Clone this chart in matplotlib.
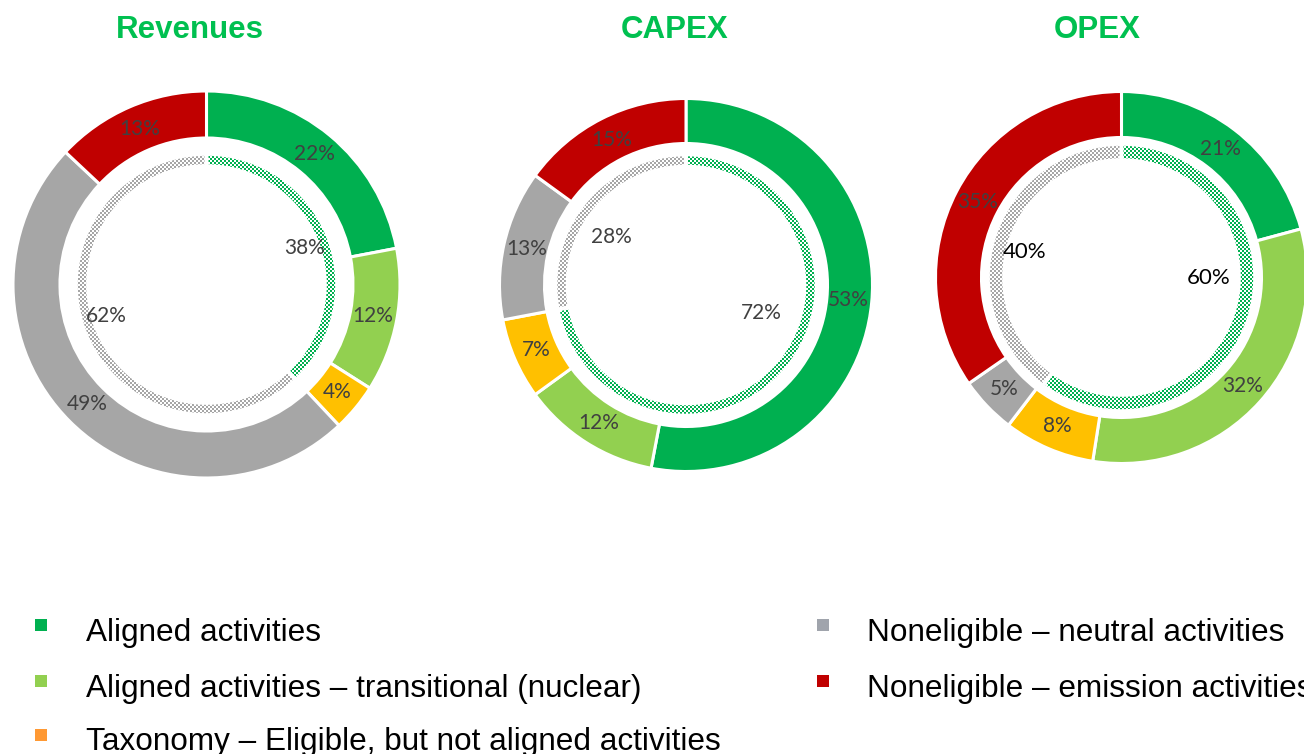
import numpy as np
import matplotlib
matplotlib.use("Agg")
import matplotlib.pyplot as plt

# ---- data -------------------------------------------------------------
titles = ["Revenues", "CAPEX", "OPEX"]
categories = [
    "Aligned activities",
    "Aligned activities \u2013 transitional (nuclear)",
    "Taxonomy \u2013 Eligible, but not aligned activities",
    "Noneligible \u2013 neutral activities",
    "Noneligible \u2013 emission activities",
]
revenues = [22, 12, 4, 49, 13]
capex = [53, 12, 7, 13, 15]
opex = [21, 32, 8, 5, 35]
# inner ring: eligible vs. non-eligible share
revenues_inner = [38, 62]
capex_inner = [72, 28]
opex_inner = [60, 40]

outer_values = [revenues, capex, opex]
inner_values = [revenues_inner, capex_inner, opex_inner]

# ---- style ------------------------------------------------------------
ring_colors = ["#00B050", "#92D050", "#FFC000", "#A6A6A6", "#C00000"]
legend_colors = ["#00B050", "#92D050", "#FF9933", "#A0A4AC", "#C00000"]
inner_colors = ["#00B050", "#A6A6A6"]
title_color = "#00C050"
label_color = "#404040"

W, H = 1304, 754
fig = plt.figure(figsize=(W / 100, H / 100), dpi=100)
ax = fig.add_axes([0, 0, 1, 1])

# layout (pixel units, y measured from the top)
centers = [(206.5, 284.5), (686.0, 285.0), (1121.5, 277.5)]
outer_r = [193.5, 186.5, 186.0]
ring_w = [47, 45, 46]
inner_ring = [(118.5, 130.5), (118.5, 130.5), (117.5, 133.5)]
# per-label placement of the inner ring percentages: (angle nudge in deg, radius)
inner_label_place = [[(-1, 105), (-4, 105)],
                     [(19, 80), (7, 89)],
                     [(18, 87), (3, 100)]]
inner_label_color = [label_color, label_color, "black"]
inner_label_size = [15, 15, 16]
title_x = [190, 675, 1097]


def to_data(x, y):
    return x, H - y


# checkerboard textures for the inner ring
cell = 2
yy, xx = np.indices((H, W))
checker = ((xx // cell + yy // cell) % 2 == 0)


def checker_rgb(hex_color):
    rgb = (np.array(matplotlib.colors.to_rgb(hex_color)) * 255).astype(np.uint8)
    img = np.full((H, W, 3), 255, dtype=np.uint8)
    img[checker] = rgb
    return img


textures = [checker_rgb(c) for c in inner_colors]

for i in range(3):
    cx, cy = to_data(*centers[i])
    R = outer_r[i]

    # outer ring
    wedges, _ = ax.pie(
        outer_values[i], radius=R, center=(cx, cy), startangle=90,
        counterclock=False, colors=ring_colors,
        wedgeprops=dict(width=ring_w[i], edgecolor="white", linewidth=2.2),
    )
    label_r = R - ring_w[i] / 2 - 1
    for w, v in zip(wedges, outer_values[i]):
        mid = np.deg2rad((w.theta1 + w.theta2) / 2)
        ax.text(cx + label_r * np.cos(mid), cy + label_r * np.sin(mid), f"{v}%",
                ha="center", va="center", fontsize=15, color=label_color,
                family="Lato", zorder=6)

    # inner hatched ring
    r0, r1 = inner_ring[i]
    iw, _ = ax.pie(
        inner_values[i], radius=r1, center=(cx, cy), startangle=90,
        counterclock=False, colors=["none", "none"],
        wedgeprops=dict(width=r1 - r0, edgecolor="white", linewidth=2.6),
    )
    for w, tex in zip(iw, textures):
        w.set_zorder(5)
        im = ax.imshow(tex, extent=(0, W, 0, H), interpolation="nearest",
                       aspect="auto", zorder=4)
        im.set_clip_path(w)
    for w, v, (nudge, r) in zip(iw, inner_values[i], inner_label_place[i]):
        mid = np.deg2rad((w.theta1 + w.theta2) / 2 + nudge)
        ax.text(cx + r * np.cos(mid), cy + r * np.sin(mid), f"{v}%",
                ha="center", va="center", fontsize=inner_label_size[i],
                color=inner_label_color[i], family="Lato", zorder=6)

    # title
    tx, ty = to_data(title_x[i], 38)
    ax.text(tx, ty, titles[i], ha="center", va="baseline", fontsize=22.5,
            fontweight="bold", color=title_color, family="Liberation Sans")

# ---- legend -----------------------------------------------------------
legend_pos = [(41, 625, 86, 641), (41, 681, 86, 697), (41, 735, 86, 750),
              (823, 625, 867, 641), (823, 681, 867, 697)]
for (sx, sy, lx, ly), name, col in zip(legend_pos, categories, legend_colors):
    ax.scatter(*to_data(sx, sy), marker="s", s=75, color=col, linewidths=0,
               zorder=6)
    ax.text(*to_data(lx, ly), name, ha="left", va="baseline", fontsize=22.7,
            color="black", family="Liberation Sans")

ax.set_xlim(0, W)
ax.set_ylim(0, H)
ax.set_aspect("auto")
ax.axis("off")

fig.savefig("out.png", dpi=100, facecolor="white")
